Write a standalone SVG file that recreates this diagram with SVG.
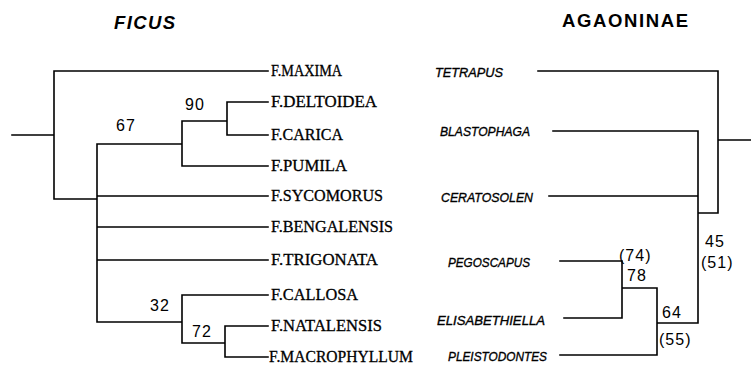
<svg xmlns="http://www.w3.org/2000/svg" width="751" height="367" viewBox="0 0 751 367">
<style>
.ln{stroke:#000;stroke-width:1.6;fill:none;stroke-linecap:square}
.tx{font-family:"Liberation Serif","Times New Roman",serif;font-size:16px;fill:#000;stroke:#000;stroke-width:0.3}
.ag{font-family:"Liberation Sans",Arial,sans-serif;font-size:13px;font-style:italic;fill:#000;stroke:#000;stroke-width:0.35}
.nm{font-family:"Liberation Sans",Arial,sans-serif;font-size:16px;letter-spacing:1px;fill:#000}
.hd{font-family:"Liberation Sans",Arial,sans-serif;font-weight:bold;fill:#000}
</style>
<rect width="751" height="367" fill="#fff"/>
<g id="headers">
<text class="hd" x="114" y="29" font-size="18.5" font-style="italic" textLength="61" lengthAdjust="spacing">FICUS</text>
<text class="hd" x="562" y="27" font-size="18.5" textLength="126" lengthAdjust="spacing">AGAONINAE</text>
</g>
<g id="connectors">
<path class="ln" d="M12,135H54M54,71V199M54,71H268M54,199H97M97,144V322M97,144H182M182,121V166M182,121H227M227,102V135M227,102H268M227,135H268M182,166H268M97,196H268M97,227H268M97,260H268M97,322H182M182,295V343M182,295H268M182,343H225M225,326V357M225,326H268M225,357H268"/>
<path class="ln" d="M538,71H718M718,71V213M718,140H751M553,131H698M698,131V323M549,196H698M698,213H718M560,261H622M622,261V318M564,318H622M622,288H657M657,288V355M560,355H657M657,323H698"/>
</g>
<g id="ficus-taxa">
<text id="f-maxima" class="tx" x="271" y="76" textLength="71" lengthAdjust="spacingAndGlyphs">F.MAXIMA</text>
<text id="f-deltoidea" class="tx" x="271" y="107" textLength="106" lengthAdjust="spacingAndGlyphs">F.DELTOIDEA</text>
<text id="f-carica" class="tx" x="271" y="140" textLength="72" lengthAdjust="spacingAndGlyphs">F.CARICA</text>
<text id="f-pumila" class="tx" x="271" y="171" textLength="76" lengthAdjust="spacingAndGlyphs">F.PUMILA</text>
<text id="f-sycomorus" class="tx" x="271" y="201" textLength="112" lengthAdjust="spacingAndGlyphs">F.SYCOMORUS</text>
<text id="f-bengalensis" class="tx" x="271" y="232" textLength="122" lengthAdjust="spacingAndGlyphs">F.BENGALENSIS</text>
<text id="f-trigonata" class="tx" x="271" y="265" textLength="107" lengthAdjust="spacingAndGlyphs">F.TRIGONATA</text>
<text id="f-callosa" class="tx" x="271" y="300" textLength="87" lengthAdjust="spacingAndGlyphs">F.CALLOSA</text>
<text id="f-natalensis" class="tx" x="271" y="331" textLength="111" lengthAdjust="spacingAndGlyphs">F.NATALENSIS</text>
<text id="f-macrophyllum" class="tx" x="269" y="362" textLength="144" lengthAdjust="spacingAndGlyphs">F.MACROPHYLLUM</text>
</g>
<g id="agaoninae-taxa">
<text id="tetrapus" class="ag" x="435" y="77" textLength="68" lengthAdjust="spacingAndGlyphs">TETRAPUS</text>
<text id="blastophaga" class="ag" x="440" y="136" textLength="90" lengthAdjust="spacingAndGlyphs">BLASTOPHAGA</text>
<text id="ceratosolen" class="ag" x="441" y="202" textLength="92" lengthAdjust="spacingAndGlyphs">CERATOSOLEN</text>
<text id="pegoscapus" class="ag" x="448" y="267" textLength="82" lengthAdjust="spacingAndGlyphs">PEGOSCAPUS</text>
<text id="elisabethiella" class="ag" x="437" y="325" textLength="108" lengthAdjust="spacingAndGlyphs">ELISABETHIELLA</text>
<text id="pleistodontes" class="ag" x="448" y="361" textLength="99" lengthAdjust="spacingAndGlyphs">PLEISTODONTES</text>
</g>
<g id="support-values">
<text class="nm" x="116" y="131">67</text>
<text class="nm" x="185" y="110">90</text>
<text class="nm" x="150" y="311">32</text>
<text class="nm" x="192" y="337">72</text>
<text class="nm" x="705" y="247">45</text>
<text class="nm" x="701" y="268">(51)</text>
<text class="nm" x="619" y="261">(74)</text>
<text class="nm" x="627" y="281">78</text>
<text class="nm" x="662" y="318">64</text>
<text class="nm" x="659" y="345">(55)</text>
</g>
</svg>
